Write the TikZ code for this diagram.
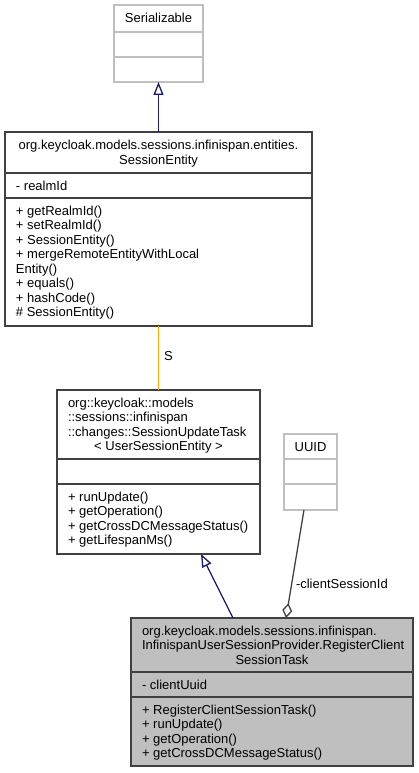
\documentclass[tikz,border=0pt]{standalone}
\usepackage{fontspec}
\setmainfont{Liberation Sans}
\usetikzlibrary{arrows.meta}
\definecolor{boxline}{HTML}{404040}
\definecolor{lightline}{HTML}{BFBFBF}
\definecolor{grayfill}{HTML}{BFBFBF}
\definecolor{inhblue}{HTML}{191970}
\definecolor{tmplorange}{HTML}{FFA500}
\definecolor{aggline}{HTML}{404040}
\tikzset{
  umlbox/.style={draw=boxline, line width=1.3pt, fill=white, inner sep=0pt, outer sep=0pt, rectangle},
  extbox/.style={draw=lightline, line width=1.3pt, fill=white, inner sep=0pt, outer sep=0pt, rectangle},
  divider/.style={line width=1.3pt},
  txt/.style={font=\fontsize{13}{14.5}\selectfont, inner sep=0pt, outer sep=0pt},
  mtxt/.style={txt, align=left, anchor=north west},
  inherit/.style={draw=inhblue, line width=1.3pt, -{Triangle[open, length=13pt, width=10pt, fill=white]}},
  tmpl/.style={draw=tmplorange, line width=1.3pt},
  aggr/.style={draw=aggline, line width=1.3pt, -{Diamond[open, length=15pt, width=10pt, fill=white]}}
}
\begin{document}
\begin{tikzpicture}[x=1pt, y=-1pt]
\useasboundingbox (0,0) rectangle (418,773);
\fill[white] (0,0) rectangle (418,773);

% Serializable
\node[extbox, minimum width=89pt, minimum height=77pt] (ser) at (158.5,43.5) {};
\draw[lightline, divider] (ser.west |- 0,32) -- (ser.east |- 0,32);
\draw[lightline, divider] (ser.west |- 0,57) -- (ser.east |- 0,57);
\node[txt, anchor=base] (serT) at (158.5,23) {Serializable};

% SessionEntity
\node[umlbox, minimum width=307pt, minimum height=194pt] (se) at (158.5,229) {};
\draw[boxline, divider] (se.west |- 0,173) -- (se.east |- 0,173);
\draw[boxline, divider] (se.west |- 0,198) -- (se.east |- 0,198);
\node[txt, anchor=base] (seT1) at (158.5,149.5) {org.keycloak.models.sessions.infinispan.entities.};
\node[txt, anchor=base] (seT2) at (158.5,164) {SessionEntity};
\node[txt, anchor=base west] (seA) at (16,190) {- realmId};
\node[mtxt] (seM) at (16,205.2) {\strut+ getRealmId()\\+ setRealmId()\\+ SessionEntity()\\+ mergeRemoteEntityWithLocal\\Entity()\\+ equals()\\+ hashCode()\\\# SessionEntity()};

% SessionUpdateTask
\node[umlbox, minimum width=203pt, minimum height=164pt] (sut) at (158.5,472) {};
\draw[boxline, divider] (sut.west |- 0,459) -- (sut.east |- 0,459);
\draw[boxline, divider] (sut.west |- 0,484) -- (sut.east |- 0,484);
\node[mtxt] (sutT) at (68,397.2) {\strut org::keycloak::models\\::sessions::infinispan\\::changes::SessionUpdateTask};
\node[txt, anchor=base] (sutT4) at (158.5,450.8) {< UserSessionEntity >};
\node[mtxt] (sutM) at (68,491.2) {\strut+ runUpdate()\\+ getOperation()\\+ getCrossDCMessageStatus()\\+ getLifespanMs()};

% UUID
\node[extbox, minimum width=53pt, minimum height=76pt] (uuid) at (310.5,472) {};
\draw[lightline, divider] (uuid.west |- 0,459) -- (uuid.east |- 0,459);
\draw[lightline, divider] (uuid.west |- 0,484) -- (uuid.east |- 0,484);
\node[txt, anchor=base] (uuidT) at (310.5,451) {UUID};

% RegisterClientSessionTask
\node[umlbox, fill=grayfill, minimum width=282pt, minimum height=148pt] (rc) at (272,692) {};
\draw[boxline, divider] (rc.west |- 0,672) -- (rc.east |- 0,672);
\draw[boxline, divider] (rc.west |- 0,697) -- (rc.east |- 0,697);
\node[mtxt] (rcT) at (142,625.2) {\strut org.keycloak.models.sessions.infinispan.\\InfinispanUserSessionProvider.RegisterClient};
\node[txt, anchor=base] (rcT3) at (272,664.3) {SessionTask};
\node[txt, anchor=base west] (rcA) at (142,689) {- clientUuid};
\node[mtxt] (rcM) at (142,704.2) {\strut+ RegisterClientSessionTask()\\+ runUpdate()\\+ getOperation()\\+ getCrossDCMessageStatus()};

% connectors
\draw[inherit] (se.north) -- (ser.south);
\draw[tmpl] (se.south) -- (sut.north);
\node[txt, anchor=base west] (lblS) at (164,360.5) {S};
\draw[inherit] ([xshift=-39pt]rc.north) -- ([xshift=42.5pt]sut.south);
\draw[aggr] ([xshift=-6.5pt]uuid.south) -- ([xshift=14pt]rc.north);
\node[txt, anchor=base west] (lblC) at (296,588.5) {-clientSessionId};
\end{tikzpicture}
\end{document}
